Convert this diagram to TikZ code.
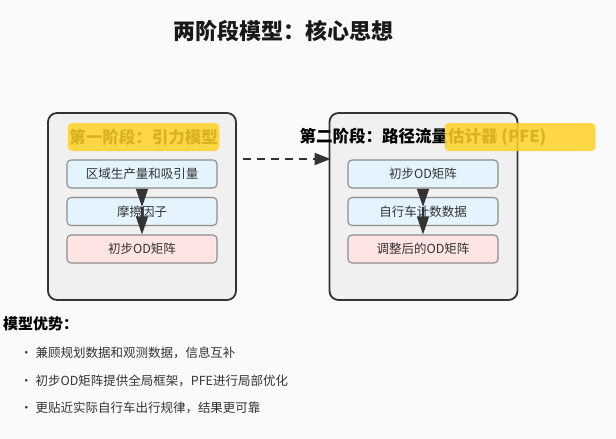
\documentclass[tikz,border=0pt]{standalone}
\usepackage{fontspec}
\setmainfont{Noto Sans CJK SC}
\usetikzlibrary{arrows.meta}
\definecolor{bg}{RGB}{250,250,250}
\definecolor{panel}{RGB}{240,240,240}
\definecolor{dark}{RGB}{51,51,51}
\definecolor{boxline}{RGB}{140,140,140}
\definecolor{lblue}{RGB}{228,244,255}
\definecolor{lpink}{RGB}{255,228,228}
\definecolor{hlyellow}{RGB}{255,210,40}
\tikzset{
  panelbox/.style={draw=dark, line width=1.8pt, fill=panel, rounded corners=9pt, minimum width=188pt, minimum height=187pt},
  stepbox/.style={draw=boxline, line width=1.1pt, rounded corners=4pt, minimum width=150pt, minimum height=28pt, text=dark, font=\fontsize{12.5}{14}\selectfont, inner sep=0pt},
  headtext/.style={font=\bfseries\fontsize{16.5}{18}\selectfont, text=black, inner sep=0pt},
  hlbox/.style={fill=hlyellow, fill opacity=0.85, rounded corners=4pt, minimum width=151pt, minimum height=28pt, inner sep=0pt},
  arr/.style={draw=dark, line width=1.4pt, -{Triangle[length=18pt,width=12pt]}},
  bullet/.style={anchor=west, text=dark, font=\fontsize{12.5}{14}\selectfont, inner sep=0pt}
}
\begin{document}
\begin{tikzpicture}[x=1pt,y=-1pt]
\fill[bg] (0,0) rectangle (616,439);
\useasboundingbox (0,0) rectangle (616,439);

\node[font=\bfseries\fontsize{22}{24}\selectfont, text=black!90] (title) at (283,31) {两阶段模型：核心思想};

% left panel
\node[panelbox] (L) at (142,206.5) {};
\node[headtext] (lh) at (143.5,137) {第一阶段：引力模型};
\node[hlbox] (lhl) at (143.5,137) {};
\node[stepbox, fill=lblue] (l1) at (142,174) {区域生产量和吸引量};
\node[stepbox, fill=lblue] (l2) at (142,211.5) {摩擦因子};
\node[stepbox, fill=lpink] (l3) at (142,249) {初步OD矩阵};
\draw[arr] (l1.south) -- ([yshift=-10pt]l2.north);
\draw[arr] ([yshift=-10pt]l2.north) -- (l3.north);

% right panel
\node[panelbox] (R) at (423.5,206.5) {};
\node[headtext] (rh) at (423,137) {第二阶段：路径流量估计器 (PFE)};
\node[hlbox] (rhl) at (520,137) {};
\node[stepbox, fill=lblue] (r1) at (423,174) {初步OD矩阵};
\node[stepbox, fill=lblue] (r2) at (423,211.5) {自行车计数数据};
\node[stepbox, fill=lpink] (r3) at (423,249) {调整后的OD矩阵};
\draw[arr] (r1.south) -- ([yshift=-10pt]r2.north);
\draw[arr] ([yshift=-10pt]r2.north) -- (r3.north);

% dashed connector
\coordinate (ds) at (243,159);
\draw[draw=dark, line width=1.8pt, dash pattern=on 8pt off 6pt, -{Triangle[length=16pt,width=12pt]}] (ds) -- ([xshift=2pt]R.west |- ds);

% advantages
\node[anchor=west, inner sep=0pt, font=\bfseries\fontsize{15}{17}\selectfont, text=black] (adv) at (3,324) {模型优势：};
\node[bullet] (b1) at (20,353) {• 兼顾规划数据和观测数据，信息互补};
\node[bullet] (b2) at (20,381) {• 初步OD矩阵提供全局框架，PFE进行局部优化};
\node[bullet] (b3) at (20,408) {• 更贴近实际自行车出行规律，结果更可靠};
\end{tikzpicture}
\end{document}
